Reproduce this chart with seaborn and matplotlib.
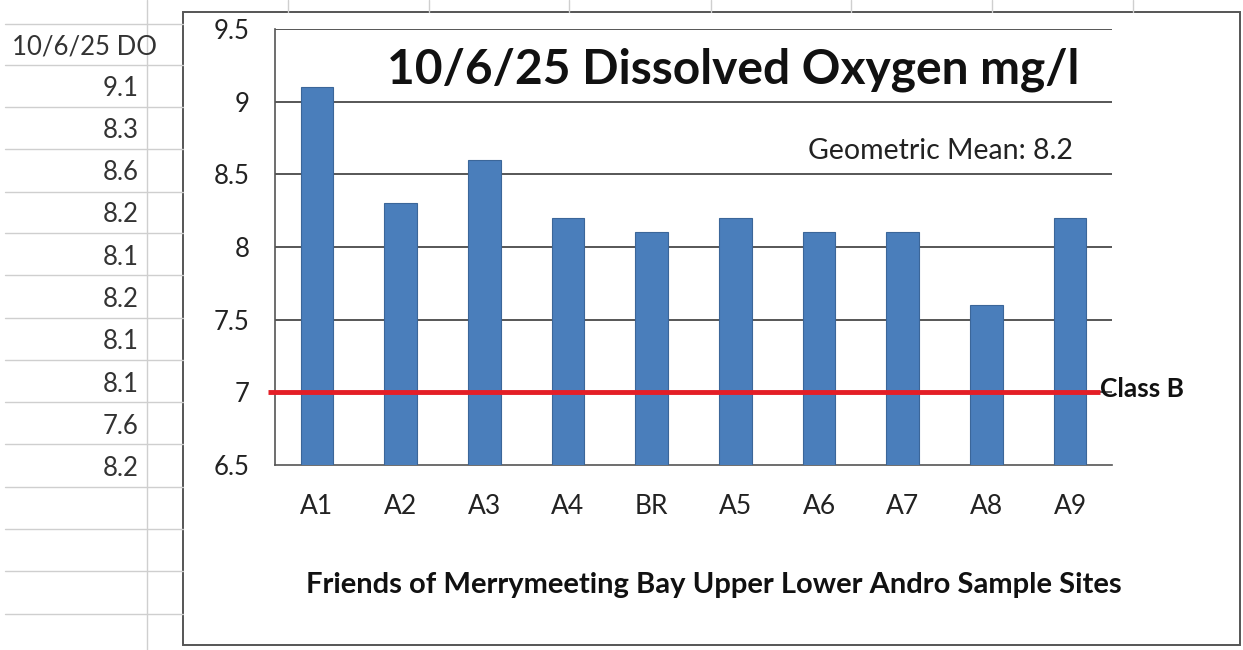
import matplotlib
matplotlib.use("Agg")
import matplotlib.pyplot as plt
from matplotlib.lines import Line2D
from matplotlib.patches import Rectangle
import seaborn as sns
import numpy as np

# ---- data ----
sites = ["A1", "A2", "A3", "A4", "BR", "A5", "A6", "A7", "A8", "A9"]
do_values = [9.1, 8.3, 8.6, 8.2, 8.1, 8.2, 8.1, 8.1, 7.6, 8.2]
sheet_header = "10/6/25 DO"
sheet_values = ["9.1", "8.3", "8.6", "8.2", "8.1", "8.2", "8.1", "8.1", "7.6", "8.2"]
y_ticks = [6.5, 7, 7.5, 8, 8.5, 9, 9.5]
y_tick_labels = ["6.5", "7", "7.5", "8", "8.5", "9", "9.5"]
class_b = 7.0
title = "10/6/25 Dissolved Oxygen mg/l"
mean_text = "Geometric Mean: 8.2"
x_label = "Friends of Merrymeeting Bay Upper Lower Andro Sample Sites"
class_label = "Class B"

sns.set_style("white")
plt.rcParams["font.family"] = ["Lato", "DejaVu Sans"]

W, H = 1243, 650
fig = plt.figure(figsize=(W / 100, H / 100), dpi=100)
fig.patch.set_facecolor("white")

def fx(px):
    return px / W

def fy(py):
    return 1 - py / H

# ---- spreadsheet background ----
grid_c = "#cfcfcf"
for py in [24, 65, 107, 149, 192, 233, 275, 318, 360, 402, 444, 487, 529, 571, 614]:
    fig.add_artist(Line2D([fx(5), fx(183)], [fy(py), fy(py)], color=grid_c, lw=1.0))
fig.add_artist(Line2D([fx(147), fx(147)], [fy(0), fy(650)], color=grid_c, lw=1.0))
for px in [288, 429, 569, 711, 851, 992, 1133]:
    fig.add_artist(Line2D([fx(px), fx(px)], [fy(0), fy(12)], color=grid_c, lw=1.0))

fig.text(fx(12), fy(47), sheet_header, ha="left", va="center", fontsize=18.5, color="#333333")
for i, v in enumerate(sheet_values):
    fig.text(fx(139), fy(88 + i * 42.3), v, ha="right", va="center", fontsize=18.5, color="#333333")

# chart frame
fig.add_artist(Rectangle((fx(183), fy(645)), fx(1240) - fx(183), fy(12) - fy(645),
                         facecolor="white", edgecolor="#555555", lw=1.4, zorder=0.5))

# ---- plot area ----
ax = fig.add_axes([fx(275), fy(465), fx(1112) - fx(275), fy(29) - fy(465)])
ax.set_facecolor("none")
ax.set_zorder(2)

sns.barplot(x=sites, y=do_values, color="#4A7EBB", width=0.39, saturation=1,
            edgecolor="#3B6699", linewidth=0.8, ax=ax, zorder=3)

ax.set_xlim(-0.5, len(sites) - 0.5)
ax.set_ylim(y_ticks[0], y_ticks[-1])
ax.set_yticks(y_ticks)
ax.set_yticklabels(y_tick_labels, fontsize=18.5, color="#222222")
for yv in y_ticks[1:]:
    ax.axhline(yv, color="#3a3a3a", lw=1.2, zorder=1)

ax.set_xticks(range(len(sites)))
ax.set_xticklabels(sites, fontsize=19, color="#222222")
ax.set_xticks(np.arange(-0.5, len(sites), 1.0), minor=True)
ax.tick_params(axis="x", which="major", length=0, pad=21)
ax.tick_params(axis="x", which="minor", length=6, width=1.2, color="#555555", direction="out")
ax.tick_params(axis="y", length=6.5, width=1.2, color="#555555", direction="out", pad=12)

for s in ["top", "right"]:
    ax.spines[s].set_visible(False)
for s in ["left", "bottom"]:
    ax.spines[s].set_color("#555555")
    ax.spines[s].set_linewidth(1.2)

# Class B line
ax.plot([-0.58, 9.36], [class_b, class_b], color="#E41E26", lw=3.5,
        solid_capstyle="butt", clip_on=False, zorder=5)
ax.text(9.36, class_b + 0.02, class_label, ha="left", va="center", fontsize=19,
        fontweight="bold", color="#111111", clip_on=False)

# texts
fig.text(fx(733), fy(70), title, ha="center", va="center", fontsize=34.5,
         fontweight="bold", color="#111111")
fig.text(fx(1073), fy(151), mean_text, ha="right", va="center", fontsize=20.5,
         color="#222222")
ax.set_xlabel("")
ax.set_ylabel("")
fig.text(fx(714), fy(585), x_label, ha="center", va="center", fontsize=21,
         fontweight="bold", color="#111111")

fig.savefig("out.png", dpi=100, facecolor="white")
